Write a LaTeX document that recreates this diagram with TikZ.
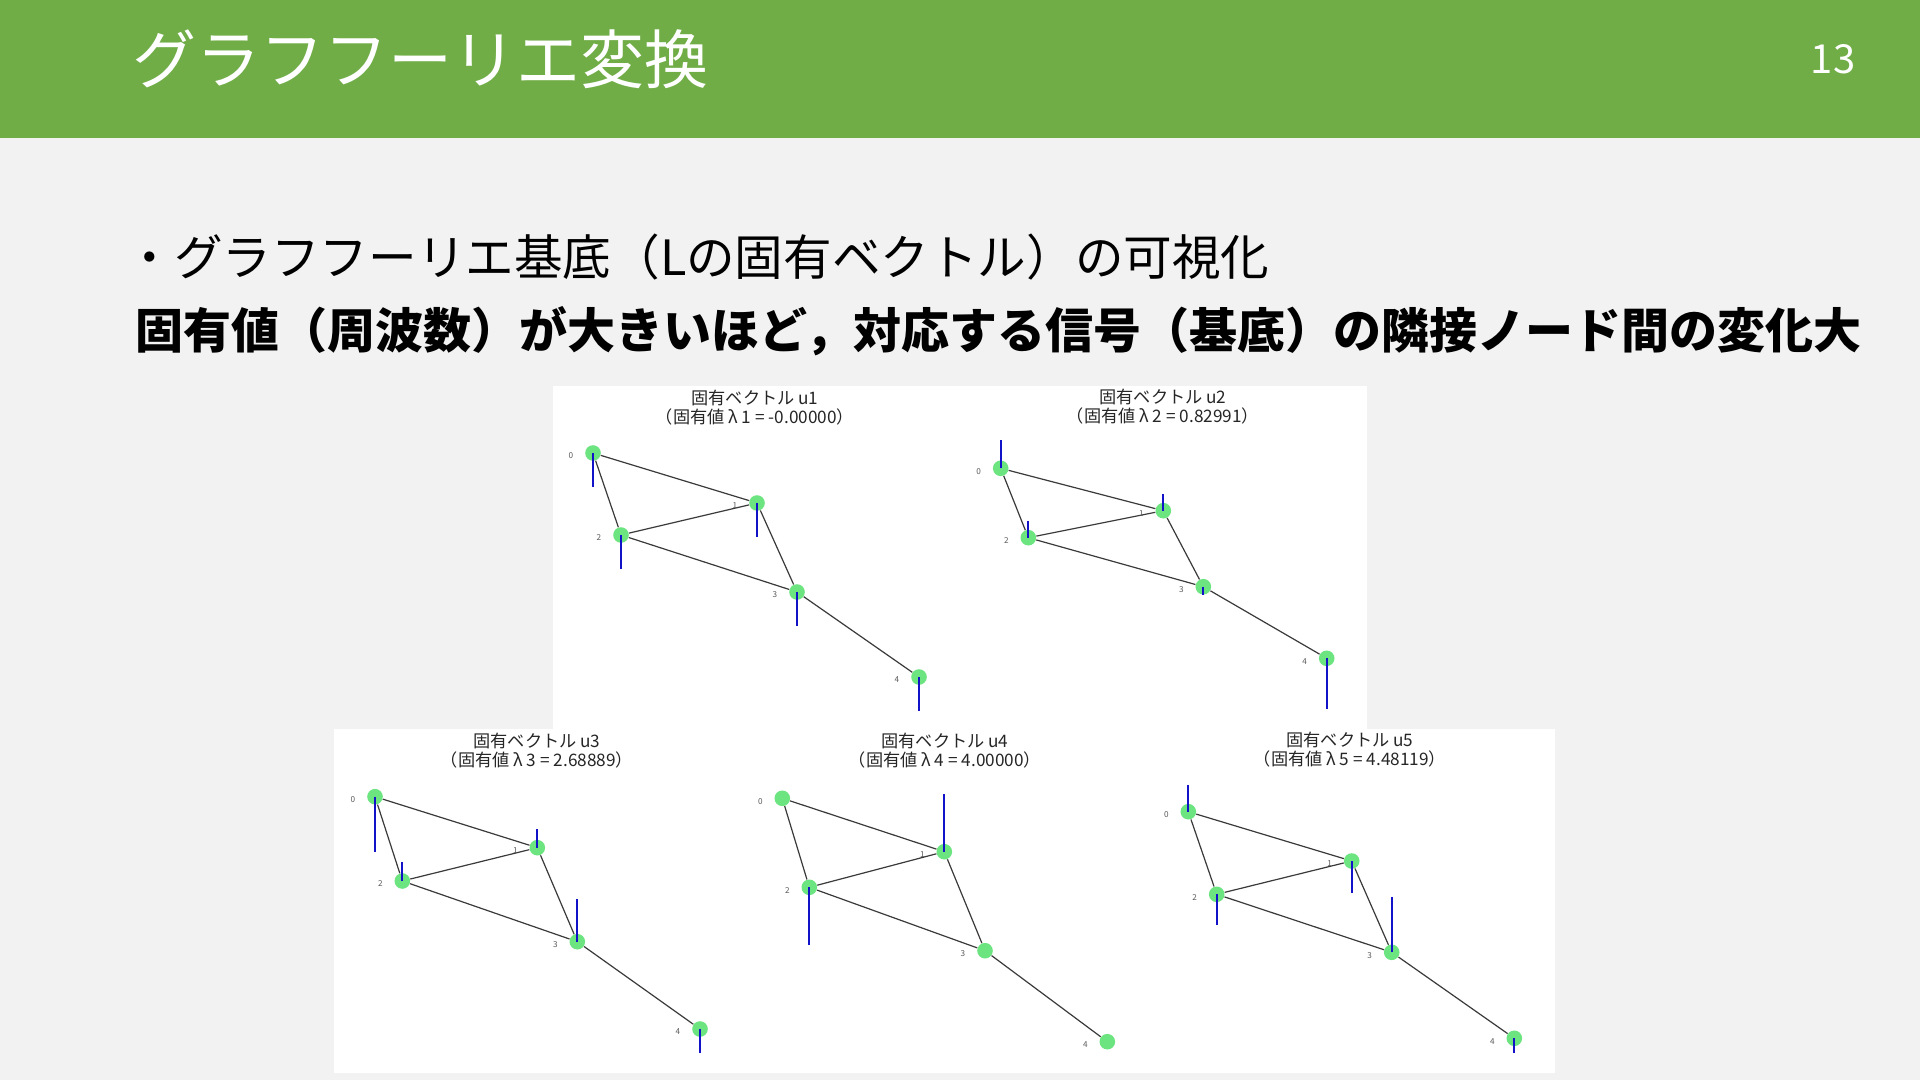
\documentclass[tikz,border=0pt]{standalone}
\usepackage{fontspec}
\setmainfont{Noto Sans CJK JP}
\usetikzlibrary{calc}
\definecolor{hdr}{HTML}{70AD47}
\definecolor{bg}{HTML}{F2F2F2}
\definecolor{ngreen}{HTML}{6CE480}
\definecolor{barc}{HTML}{1212C8}
\definecolor{edg}{HTML}{3A3A3A}
\newcommand\gedges[1]{\draw[gedge] (#1-0)--(#1-1) (#1-0)--(#1-2) (#1-1)--(#1-2) (#1-1)--(#1-3) (#1-2)--(#1-3) (#1-3)--(#1-4);}
\newcommand\glabels[1]{\foreach \i in {0,...,4}{\node[glabel] (#1-l\i) at ($(#1-\i)+(-22,3)$) {\i};}}
\begin{document}
\begin{tikzpicture}[x=0.5pt,y=-0.5pt,
  gnode/.style={circle,fill=ngreen,minimum size=7.8pt,inner sep=0pt},
  gedge/.style={draw=edg,line width=0.6pt},
  gbar/.style={draw=barc,line width=0.9pt},
  glabel/.style={font=\fontsize{4.1pt}{5pt}\selectfont,text=black!65,inner sep=0pt},
  gtitle/.style={font=\fontsize{8.6pt}{9.5pt}\selectfont,align=center,inner sep=0pt,text=black!85},
  ]
\fill[bg] (0,0) rectangle (1920,1080);
\useasboundingbox (0,0) rectangle (1920,1080);
\fill[hdr] (0,0) rectangle (1920,138);
\node[anchor=west,text=white,font=\fontsize{32pt}{36pt}\selectfont,inner sep=0pt] (title) at (132,59) {グラフフーリエ変換};
\node[text=white,font=\fontsize{20pt}{24pt}\selectfont,inner sep=0pt] (pnum) at (1833,59) {13};
\node[anchor=west,font=\fontsize{24.3pt}{28pt}\selectfont,inner sep=0pt] (line1) at (125,257) {・グラフフーリエ基底（Lの固有ベクトル）の可視化};
\node[anchor=west,font=\bfseries\fontsize{24pt}{28pt}\selectfont,inner sep=0pt] (line2) at (135,331) {固有値（周波数）が大きいほど，対応する信号（基底）の隣接ノード間の変化大};
% image panels
\fill[white] (553,386) rectangle (1367,729);
\fill[white] (334,729) rectangle (1555,1073);
% ---- u1
\node[gtitle] (t1) at (755,407.5) {固有ベクトル u1\\（固有値 λ 1 = -0.00000）};
\node[gnode] (a-0) at (593,453) {};
\node[gnode] (a-1) at (757,503) {};
\node[gnode] (a-2) at (621,535) {};
\node[gnode] (a-3) at (797,592) {};
\node[gnode] (a-4) at (919,677) {};
\gedges{a}\glabels{a}
\draw[gbar] (a-0.center) -- ++(0,34);
\draw[gbar] (a-1.center) -- ++(0,34);
\draw[gbar] (a-2.center) -- ++(0,34);
\draw[gbar] (a-3.center) -- ++(0,34);
\draw[gbar] (a-4.center) -- ++(0,34);
% ---- u2
\node[gtitle] (t2) at (1163,406.5) {固有ベクトル u2\\（固有値 λ 2 = 0.82991）};
\node[gnode] (b-0) at (1000.7,468.3) {};
\node[gnode] (b-1) at (1163.3,510.7) {};
\node[gnode] (b-2) at (1028.3,537.7) {};
\node[gnode] (b-3) at (1203.3,586.7) {};
\node[gnode] (b-4) at (1326.7,658.3) {};
\gedges{b}\glabels{b}
\draw[gbar] (b-0.center) -- ++(0,-28);
\draw[gbar] (b-1.center) -- ++(0,-17);
\draw[gbar] (b-2.center) -- ++(0,-17);
\draw[gbar] (b-3.center) -- ++(0,8);
\draw[gbar] (b-4.center) -- ++(0,51);
% ---- u3
\node[gtitle] (t3) at (537,750.5) {固有ベクトル u3\\（固有値 λ 3 = 2.68889）};
\node[gnode] (c-0) at (375,796.7) {};
\node[gnode] (c-1) at (537.3,847.7) {};
\node[gnode] (c-2) at (402.3,881) {};
\node[gnode] (c-3) at (577.3,941.7) {};
\node[gnode] (c-4) at (700,1029) {};
\gedges{c}\glabels{c}
\draw[gbar] (c-0.center) -- ++(0,55);
\draw[gbar] (c-1.center) -- ++(0,-19);
\draw[gbar] (c-2.center) -- ++(0,-19);
\draw[gbar] (c-3.center) -- ++(0,-43);
\draw[gbar] (c-4.center) -- ++(0,24);
% ---- u4
\node[gtitle] (t4) at (945,750.5) {固有ベクトル u4\\（固有値 λ 4 = 4.00000）};
\node[gnode] (d-0) at (782.3,798.3) {};
\node[gnode] (d-1) at (944.3,851.7) {};
\node[gnode] (d-2) at (809.3,887.3) {};
\node[gnode] (d-3) at (985,950.7) {};
\node[gnode] (d-4) at (1107.3,1041.7) {};
\gedges{d}\glabels{d}
\draw[gbar] (d-1.center) -- ++(0,-58);
\draw[gbar] (d-2.center) -- ++(0,58);
% ---- u5
\node[gtitle] (t5) at (1350,749.5) {固有ベクトル u5\\（固有値 λ 5 = 4.48119）};
\node[gnode] (e-0) at (1188.3,811.7) {};
\node[gnode] (e-1) at (1351.7,861) {};
\node[gnode] (e-2) at (1216.7,894.3) {};
\node[gnode] (e-3) at (1391.7,952.3) {};
\node[gnode] (e-4) at (1514.3,1038.3) {};
\gedges{e}\glabels{e}
\draw[gbar] (e-0.center) -- ++(0,-27);
\draw[gbar] (e-1.center) -- ++(0,32);
\draw[gbar] (e-2.center) -- ++(0,31);
\draw[gbar] (e-3.center) -- ++(0,-55);
\draw[gbar] (e-4.center) -- ++(0,15);
\end{tikzpicture}
\end{document}
